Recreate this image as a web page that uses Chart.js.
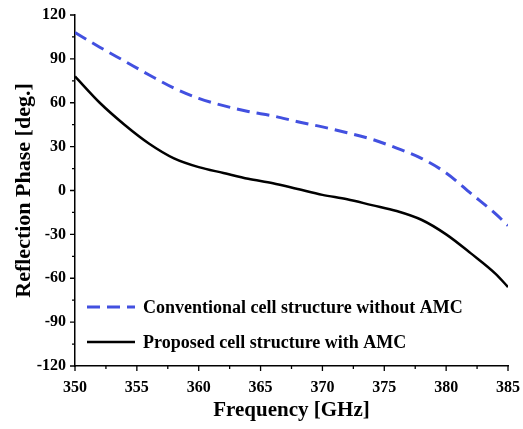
<!DOCTYPE html>
<html>
<head>
<meta charset="utf-8">
<script src="https://cdn.jsdelivr.net/npm/chart.js@4/dist/chart.umd.min.js"></script>
<style>
  html, body { margin: 0; padding: 0; background: #fff; }
  #wrap { width: 523px; height: 429px; }
</style>
</head>
<body>
<div id="wrap"><canvas id="phaseChart"></canvas></div>
<script>
// Frequency samples (GHz) and reflection phase (deg.)
const freqs = [350, 352, 354, 356, 358, 360, 362, 364, 366, 368, 370, 372, 374, 376, 378, 380, 382, 384, 385];
const conventionalPhase = [108, 98, 88.5, 79, 70, 63, 58, 54, 51, 47, 43.5, 39.5, 35, 29, 22, 12, -2, -16, -24];
const proposedPhase = [78, 60, 45, 32, 22, 16, 12, 8, 5, 1, -3, -6, -10, -14, -20, -30, -43, -57, -66];
const seriesLabels = ['Conventional cell structure without AMC', 'Proposed cell structure with AMC'];

const serif = '"Liberation Serif", "Times New Roman", serif';

function toPoints(ys) {
  return freqs.map((f, i) => ({ x: f, y: ys[i] }));
}

// major + minor ticks, pointing outward
const axisTicks = {
  id: 'axisTicks',
  afterDraw(chart) {
    const c = chart.ctx;
    const xs = chart.scales.x;
    const ys = chart.scales.y;
    c.save();
    c.strokeStyle = '#000';
    c.lineWidth = 1.3;
    c.beginPath();
    for (let v = 350; v <= 385; v += 2.5) {
      const px = xs.getPixelForValue(v);
      const len = (v % 5 === 0) ? 5 : 3;
      c.moveTo(px, ys.bottom);
      c.lineTo(px, ys.bottom + len);
    }
    for (let v = -120; v <= 120; v += 15) {
      const py = ys.getPixelForValue(v);
      const len = (v % 30 === 0) ? 5 : 3;
      c.moveTo(xs.left, py);
      c.lineTo(xs.left - len, py);
    }
    c.stroke();
    c.restore();
  }
};

// legend drawn inside the plot, lower left
const insideLegend = {
  id: 'insideLegend',
  afterDraw(chart) {
    const c = chart.ctx;
    const left = chart.chartArea.left;
    const rows = [307, 342];
    c.save();
    c.font = 'bold 18px ' + serif;
    c.textBaseline = 'middle';
    c.fillStyle = '#000';
    chart.data.datasets.forEach((ds, i) => {
      const y = rows[i];
      c.strokeStyle = ds.borderColor;
      c.lineWidth = ds.borderWidth;
      c.setLineDash(ds.borderDash || []);
      c.beginPath();
      c.moveTo(left + 12, y);
      c.lineTo(left + 60, y);
      c.stroke();
      c.setLineDash([]);
      c.fillText(ds.label, left + 68, y + 1);
    });
    c.restore();
  }
};

new Chart(document.getElementById('phaseChart'), {
  type: 'line',
  data: {
    datasets: [
      {
        label: seriesLabels[0],
        data: toPoints(conventionalPhase),
        borderColor: '#4250e0',
        borderWidth: 3,
        borderDash: [13, 7],
        pointRadius: 0,
        cubicInterpolationMode: 'monotone',
        fill: false
      },
      {
        label: seriesLabels[1],
        data: toPoints(proposedPhase),
        borderColor: '#000',
        borderWidth: 2.5,
        pointRadius: 0,
        cubicInterpolationMode: 'monotone',
        fill: false
      }
    ]
  },
  options: {
    responsive: true,
    maintainAspectRatio: false,
    animation: false,
    layout: { padding: { left: 0, top: 15, right: 15, bottom: 0 } },
    plugins: {
      legend: { display: false },
      tooltip: { enabled: false }
    },
    scales: {
      x: {
        type: 'linear',
        min: 350,
        max: 385,
        afterFit(scale) { scale.height = 63; },
        border: { display: true, color: '#000', width: 1.5 },
        grid: { display: false, drawOnChartArea: false, tickLength: 10 },
        ticks: {
          stepSize: 5,
          padding: 2,
          color: '#000',
          maxRotation: 0,
          font: { family: serif, size: 16, weight: 'bold' }
        },
        title: {
          display: true,
          text: 'Frequency [GHz]',
          color: '#000',
          padding: { top: 0, bottom: 6 },
          font: { family: serif, size: 21, weight: 'bold' }
        }
      },
      y: {
        min: -120,
        max: 120,
        afterFit(scale) { scale.width = 75; },
        border: { display: true, color: '#000', width: 1.5 },
        grid: { display: false, drawOnChartArea: false, tickLength: 7 },
        ticks: {
          stepSize: 30,
          padding: 2,
          color: '#000',
          font: { family: serif, size: 16, weight: 'bold' }
        },
        title: {
          display: true,
          text: 'Reflection Phase [deg.]',
          color: '#000',
          padding: { top: 11, bottom: 0 },
          font: { family: serif, size: 22, weight: 'bold' }
        }
      }
    }
  },
  plugins: [axisTicks, insideLegend]
});
</script>
</body>
</html>
